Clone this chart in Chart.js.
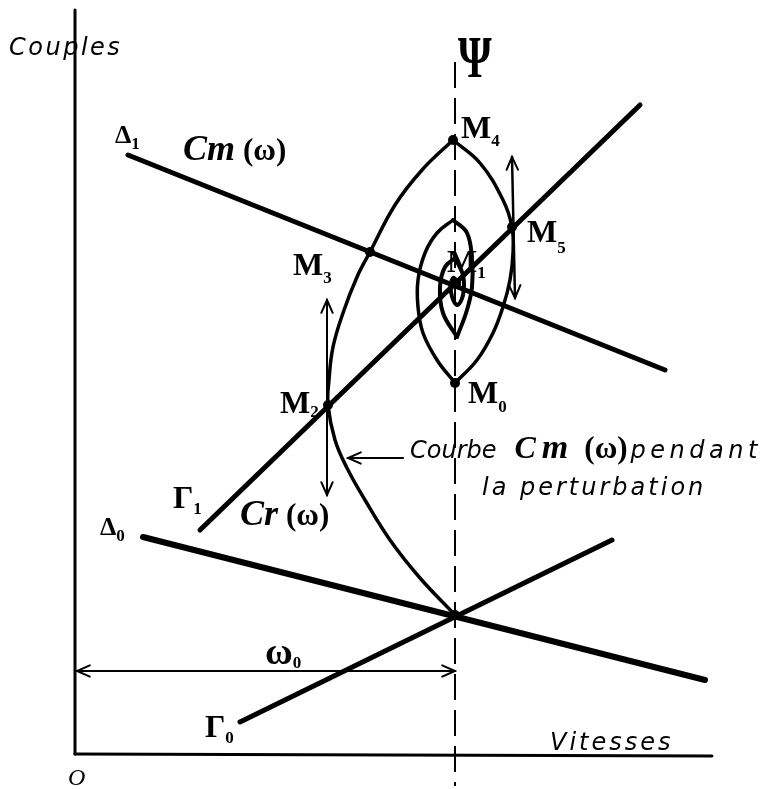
<!DOCTYPE html>
<html lang="fr">
<head>
<meta charset="UTF-8">
<title>Couples / Vitesses</title>
<script src="https://cdn.jsdelivr.net/npm/chart.js"></script>
<style>
  html, body { margin: 0; padding: 0; background: #fff; }
  #wrap { width: 782px; height: 789px; }
</style>
</head>
<body>
<div id="wrap"><canvas id="chart"></canvas></div>
<script>
// diagram units: x = vitesse, y = couple, origin O at the corner of the axes
const axisX = [[0, -4], [637, -6]];
const axisY = [[0, -4], [0, 740]];
const psi = [[380, 688], [380, -36]];

const delta1 = [[53, 595], [590, 380]];   // Cm (w)
const gamma1 = [[125, 220], [565, 645]];  // Cr (w)
const delta0 = [[68, 213], [630, 70]];
const gamma0 = [[165, 28], [537, 210]];

// Cm (w) during the perturbation, one array per arc between cusps
const arcToM4 = [[380, 135], [345, 172], [315, 210], [290, 250], [272, 282], [260, 310], [253, 345],
  [254, 370], [258, 403], [268, 437], [282, 473], [295, 498], [320, 545], [347, 580], [378, 610]];
const arcToM0 = [[378, 610], [405, 587], [428, 550], [437, 523], [438, 497], [435, 470], [428, 443],
  [418, 417], [402, 390], [380, 367]];
const arcUp1 = [[380, 367], [362, 390], [348, 417], [343, 443], [343, 470], [350, 497], [362, 517], [378, 530]];
const arcDown1 = [[378, 530], [392, 517], [397, 490], [397, 463], [392, 440], [382, 413]];
const arcUp2 = [[382, 413], [368, 437], [365, 463], [370, 483], [380, 492]];
const arcSpiral = [[380, 492], [388, 475], [388, 455], [382, 445], [376, 458], [378, 472], [384, 467]];

// named points
const pO = [380, 135];
const pM0 = [380, 367];
const pM1 = [381, 466];
const pM2 = [253, 345];
const pM3 = [295, 498];
const pM4 = [378, 610];
const pM5 = [437, 523];

// arrows
const arrowM2 = [[252, 450], [252, 255]];
const arrowM5 = [[437, 593], [440, 452]];
const arrowCourbe = [[328, 292], [273, 292]];
const arrowW0 = [[2, 79], [380, 79]];

const SANS = 'italic 24px "DejaVu Sans"';
const BIG = 'bold 32px "Liberation Serif"';
const SUB = 'bold 17px "Liberation Serif"';
const CM = 'italic bold 36px "Liberation Serif"';
const W = 'bold 31px "Liberation Serif"';
const DELTA = 'bold 26px "Liberation Serif"';

// text labels: anchor (left, baseline) in diagram units, then parts
// part: t text, f font, dy shift down, ls letter spacing, gap space after, sx horizontal squeeze
const labels = [
  { at: [-66, 695], parts: [{ t: 'Couples', f: SANS, ls: 2.5 }] },
  { at: [383, 673], parts: [{ t: 'Ψ', f: 'bold 60px "Liberation Serif"', sx: 0.72 }] },
  { at: [386, 612], parts: [{ t: 'M', f: BIG }, { t: '4', f: SUB, dy: 8 }] },
  { at: [40, 607], parts: [{ t: 'Δ', f: DELTA }, { t: '1', f: SUB, dy: 6 }] },
  { at: [108, 590], parts: [{ t: 'Cm', f: CM, gap: 8 }, { t: '(ω)', f: W }] },
  { at: [218, 475], parts: [{ t: 'M', f: BIG }, { t: '3', f: SUB, dy: 8 }] },
  { at: [372, 478], parts: [{ t: 'M', f: BIG }, { t: '1', f: SUB, dy: 6 }] },
  { at: [452, 508], parts: [{ t: 'M', f: BIG }, { t: '5', f: SUB, dy: 11 }] },
  { at: [393, 347], parts: [{ t: 'M', f: BIG }, { t: '0', f: SUB, dy: 9 }] },
  { at: [205, 337], parts: [{ t: 'M', f: BIG }, { t: '2', f: SUB, dy: 4 }] },
  { at: [335, 292], parts: [
    { t: 'Courbe', f: SANS, gap: 18 },
    { t: 'C', f: 'italic bold 32px "Liberation Serif"', gap: 6 },
    { t: 'm', f: 'italic bold 34px "Liberation Serif"', gap: 16 },
    { t: '(ω)', f: W, gap: 3 },
    { t: 'pendant', f: SANS, ls: 4.5 }
  ] },
  { at: [407, 255], parts: [{ t: 'la perturbation', f: SANS, ls: 3 }] },
  { at: [98, 242], parts: [{ t: 'Γ', f: BIG }, { t: '1', f: SUB, dy: 6 }] },
  { at: [165, 225], parts: [{ t: 'Cr', f: CM, gap: 8 }, { t: '(ω)', f: W }] },
  { at: [25, 215], parts: [{ t: 'Δ', f: DELTA }, { t: '0', f: SUB, dy: 6 }] },
  { at: [190, 86], parts: [{ t: 'ω', f: 'bold 38px "Liberation Serif"' }, { t: '0', f: SUB, dy: 4 }] },
  { at: [130, 13], parts: [{ t: 'Γ', f: BIG }, { t: '0', f: SUB, dy: 6 }] },
  { at: [475, 0], parts: [{ t: 'Vitesses', f: SANS, ls: 3 }] },
  { at: [-7, -35], parts: [{ t: 'O', f: 'italic 24px "Liberation Serif"' }] }
];

const xy = pts => pts.map(([x, y]) => ({ x, y }));

function line(pts, width, extra) {
  return Object.assign({
    data: xy(pts),
    showLine: true,
    borderColor: '#000',
    borderWidth: width,
    pointRadius: 0,
    borderCapStyle: 'round',
    borderJoinStyle: 'round',
    tension: 0
  }, extra || {});
}

const arrowHeads = {
  id: 'arrowHeads',
  afterDatasetsDraw(chart) {
    const ctx = chart.ctx;
    chart.data.datasets.forEach((ds, i) => {
      if (!ds.arrow) return;
      const pts = chart.getDatasetMeta(i).data;
      const ends = [];
      if (ds.arrow !== 'end') ends.push([pts[0], pts[1]]);
      if (ds.arrow !== 'start') ends.push([pts[pts.length - 1], pts[pts.length - 2]]);
      ctx.save();
      ctx.strokeStyle = '#000';
      ctx.lineWidth = 2;
      ctx.lineCap = 'round';
      ends.forEach(([tip, from]) => {
        const a = Math.atan2(tip.y - from.y, tip.x - from.x);
        const len = 14, spread = 0.42;
        ctx.beginPath();
        ctx.moveTo(tip.x - len * Math.cos(a - spread), tip.y - len * Math.sin(a - spread));
        ctx.lineTo(tip.x, tip.y);
        ctx.lineTo(tip.x - len * Math.cos(a + spread), tip.y - len * Math.sin(a + spread));
        ctx.stroke();
      });
      ctx.restore();
    });
  }
};

const textLabels = {
  id: 'textLabels',
  afterDraw(chart) {
    const ctx = chart.ctx;
    const sx = chart.scales.x, sy = chart.scales.y;
    ctx.save();
    ctx.fillStyle = '#000';
    ctx.textBaseline = 'alphabetic';
    labels.forEach(l => {
      let px = sx.getPixelForValue(l.at[0]);
      const py = sy.getPixelForValue(l.at[1]);
      l.parts.forEach(p => {
        const k = p.sx || 1;
        ctx.font = p.f;
        ctx.letterSpacing = (p.ls || 0) + 'px';
        ctx.save();
        ctx.translate(px, py + (p.dy || 0));
        ctx.scale(k, 1);
        ctx.fillText(p.t, 0, 0);
        ctx.restore();
        px += ctx.measureText(p.t).width * k + (p.gap || 0);
      });
    });
    ctx.restore();
  }
};

new Chart(document.getElementById('chart'), {
  type: 'scatter',
  data: {
    datasets: [
      line(axisX, 3),
      line(axisY, 3),
      line(psi, 2, { borderDash: [26, 10], borderCapStyle: 'butt' }),
      line(delta1, 5),
      line(gamma1, 5),
      line(delta0, 6),
      line(gamma0, 5),
      line(arcToM4, 3.5, { tension: 0.4 }),
      line(arcToM0, 3.5, { tension: 0.4 }),
      line(arcUp1, 3.5, { tension: 0.4 }),
      line(arcDown1, 4, { tension: 0.4 }),
      line(arcUp2, 4, { tension: 0.4 }),
      line(arcSpiral, 4, { tension: 0.4 }),
      line(arrowM2, 2, { arrow: 'both' }),
      line(arrowM5, 2.5, { arrow: 'both' }),
      line(arrowCourbe, 2, { arrow: 'end' }),
      line(arrowW0, 2, { arrow: 'both' }),
      {
        data: xy([pO, pM0, pM1, pM2, pM3, pM4, pM5]),
        pointRadius: 5,
        pointBackgroundColor: '#000',
        pointBorderWidth: 0
      }
    ]
  },
  options: {
    responsive: true,
    maintainAspectRatio: false,
    animation: false,
    layout: { padding: 0, autoPadding: false },
    plugins: { legend: { display: false }, tooltip: { enabled: false } },
    scales: {
      x: { type: 'linear', min: -75, max: 707, display: false },
      y: { type: 'linear', min: -39, max: 750, display: false }
    }
  },
  plugins: [arrowHeads, textLabels]
});
</script>
</body>
</html>
